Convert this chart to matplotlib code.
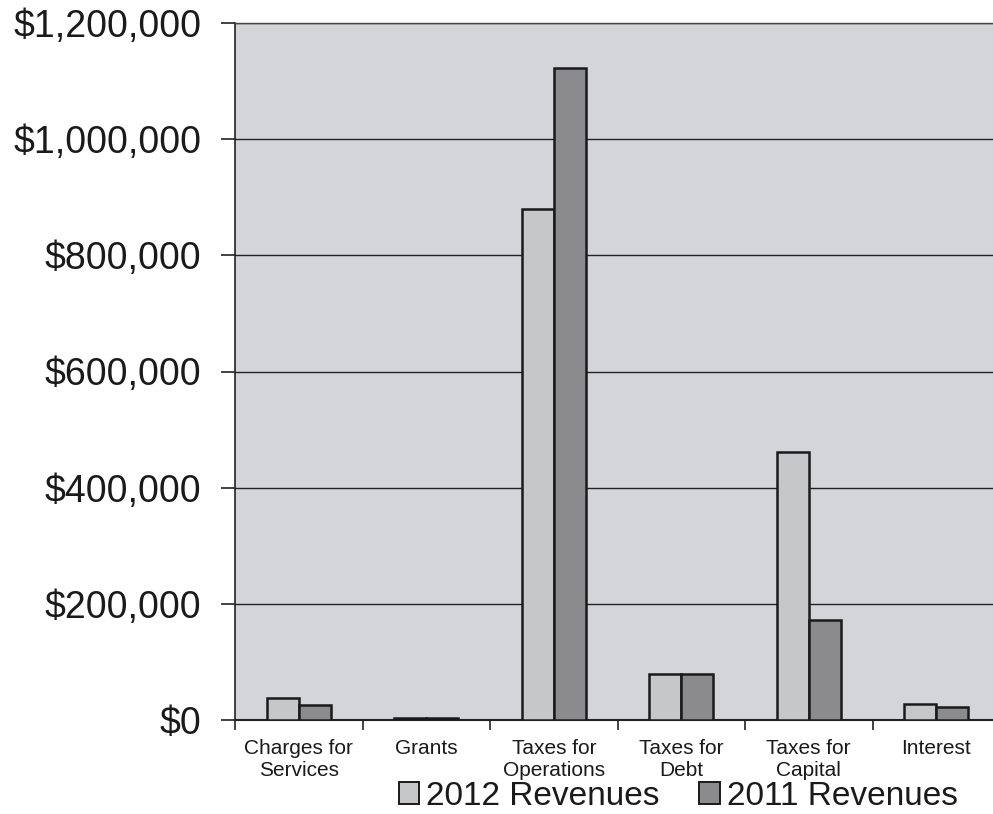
import matplotlib
matplotlib.use("Agg")
import matplotlib.pyplot as plt
import numpy as np
from matplotlib.ticker import FuncFormatter

categories = ["Charges for\nServices", "Grants", "Taxes for\nOperations", "Taxes for\nDebt", "Taxes for\nCapital", "Interest"]
rev_2012 = [38000, 3000, 880000, 80000, 462000, 27000]
rev_2011 = [26000, 3000, 1123000, 80000, 172000, 23000]
series_labels = ["2012 Revenues", "2011 Revenues"]
yticks = [0, 200000, 400000, 600000, 800000, 1000000, 1200000]

plt.rcParams['font.family'] = ['Liberation Sans', 'DejaVu Sans']

fig = plt.figure(figsize=(9.93, 8.14), dpi=100)
L, R = 235, 1000
ax = fig.add_axes([L/993, 94/814, (R - L)/993, (720-23)/814])
ax.set_facecolor('#d4d5d9')

x = np.arange(len(categories))
w = 0.25
ax.bar(x - w/2, rev_2012, width=w, color='#c6c7c9', edgecolor='#1a1a1a', linewidth=1.8, label=series_labels[0], zorder=3)
ax.bar(x + w/2, rev_2011, width=w, color='#8b8b8d', edgecolor='#1a1a1a', linewidth=1.8, label=series_labels[1], zorder=3)

ax.set_ylim(0, 1200000)
ax.set_xlim(-0.5, len(categories) - 0.5)
ax.set_yticks(yticks)
ax.yaxis.set_major_formatter(FuncFormatter(lambda v, p: "${:,.0f}".format(v)))
ax.tick_params(axis='y', labelsize=27, length=10, width=1.2, color='#222222', pad=14, labelcolor='#1a1a1a')
ax.grid(axis='y', color='#222222', linewidth=1.0, zorder=1)

ax.set_xticks(x)
ax.set_xticklabels(categories, fontsize=15, color='#1a1a1a', va='top')
ax.tick_params(axis='x', length=0, pad=14)
ax.set_xticks(np.arange(-0.5, len(categories), 1.0), minor=True)
ax.tick_params(axis='x', which='minor', length=7, width=1.2, color='#222222')

ax.spines['right'].set_visible(False)
ax.spines['left'].set_color('#222222')
ax.spines['left'].set_linewidth(1.2)
ax.spines['bottom'].set_color('#222222')
ax.spines['bottom'].set_linewidth(1.5)
ax.spines['top'].set_color('#444444')
ax.spines['top'].set_linewidth(1.0)

leg = fig.legend(loc='center', bbox_to_anchor=(0.683, 0.022), ncol=2, fontsize=24,
                 frameon=False, handlelength=0.62, handleheight=0.62, handletextpad=0.2,
                 columnspacing=1.2, borderaxespad=0)
for t in leg.get_texts():
    t.set_color('#1a1a1a')
for h in leg.legend_handles:
    h.set_linewidth(1.4)

fig.savefig("out.png", dpi=100)
